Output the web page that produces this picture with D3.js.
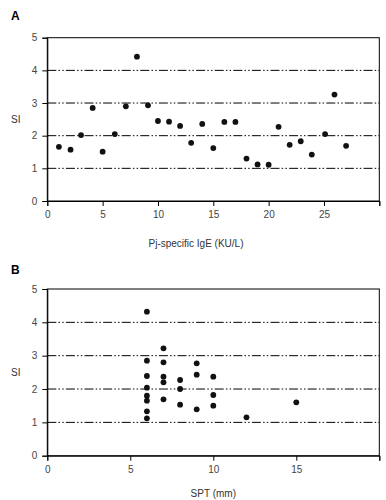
<!DOCTYPE html>
<html>
<head>
<meta charset="utf-8">
<script src="https://cdn.jsdelivr.net/npm/d3@7.9.0/dist/d3.min.js"></script>
<style>
  body { margin: 0; background: #fff; }
  svg { display: block; font-family: "Liberation Sans", Arial, sans-serif; }
</style>
</head>
<body>
<div id="chart"></div>
<script>
// panel A: Pj-specific IgE vs SI
const igeX = [1.05, 2.1, 3.05, 4.1, 5.0, 6.1, 7.1, 8.1, 9.1, 10.0, 11.0, 12.0, 13.0, 14.0,
  15.0, 16.0, 17.0, 18.0, 19.0, 20.0, 20.9, 21.9, 22.9, 23.9, 25.1, 25.95, 27.0];
const igeSI = [1.66, 1.57, 2.02, 2.85, 1.51, 2.05, 2.9, 4.42, 2.93, 2.45, 2.43, 2.3, 1.78, 2.36,
  1.62, 2.42, 2.42, 1.3, 1.12, 1.11, 2.27, 1.72, 1.83, 1.42, 2.05, 3.26, 1.69];

// panel B: SPT vs SI
const sptX = [6, 6, 6, 6, 6, 6, 6, 6, 7, 7, 7, 7, 7, 8, 8, 8, 9, 9, 9, 10, 10, 10, 12, 15];
const sptSI = [4.32, 2.85, 2.39, 2.04, 1.8, 1.65, 1.33, 1.12, 3.22, 2.8, 2.37, 2.2, 1.69,
  2.27, 2.0, 1.53, 2.77, 2.43, 1.39, 2.37, 1.82, 1.5, 1.15, 1.6];

const siTicks = [0, 1, 2, 3, 4, 5];
const gridTicks = [1, 2, 3, 4];
const igeTicks = [0, 5, 10, 15, 20, 25, 30];
const sptTicks = [0, 5, 10, 15, 20];

const width = 386;
const height = 500;

const svg = d3.select('#chart')
  .append('svg')
  .attr('width', width)
  .attr('height', height);

function drawPanel(opt) {
  const x = d3.scaleLinear().domain(opt.xDomain).range([47.3, 379.3]);
  const y = d3.scaleLinear().domain([0, 5]).range([opt.bottom, opt.top]);
  const g = svg.append('g');

  // dash-dot-dot reference lines
  g.append('g')
    .selectAll('line')
    .data(gridTicks)
    .join('line')
    .attr('x1', x.range()[0])
    .attr('x2', x.range()[1])
    .attr('y1', d => y(d))
    .attr('y2', d => y(d))
    .attr('stroke', '#000')
    .attr('stroke-width', 1)
    .attr('stroke-dasharray', '9,2.2,1.5,2.2,1.5,2.2');

  // frame (top / right)
  g.append('rect')
    .attr('x', x.range()[0])
    .attr('y', y(5))
    .attr('width', x.range()[1] - x.range()[0])
    .attr('height', y(0) - y(5))
    .attr('fill', 'none')
    .attr('stroke', '#000')
    .attr('stroke-width', 1);

  const xAxis = g.append('g')
    .attr('transform', `translate(0, ${y(0)})`)
    .call(d3.axisBottom(x).tickValues(opt.xTicks).tickSize(5).tickPadding(5)
      .tickFormat(d => opt.xLabelled.includes(d) ? d : ''));

  const yAxis = g.append('g')
    .attr('transform', `translate(${x.range()[0]}, 0)`)
    .call(d3.axisLeft(y).tickValues(siTicks).tickSize(5).tickPadding(5)
      .tickFormat(d3.format('d')));

  [xAxis, yAxis].forEach(a => {
    a.select('.domain').attr('stroke', '#000');
    a.selectAll('.tick line').attr('stroke', '#000');
    a.selectAll('.tick text')
      .attr('fill', '#444')
      .style('font-size', '10px')
      .style('font-family', '"Liberation Sans", Arial, sans-serif');
  });

  g.append('g')
    .selectAll('circle')
    .data(opt.xs.map((v, i) => [v, opt.ys[i]]))
    .join('circle')
    .attr('cx', d => x(d[0]))
    .attr('cy', d => y(d[1]))
    .attr('r', 2.9)
    .attr('fill', '#111');

  // panel letter
  g.append('text')
    .attr('x', 11)
    .attr('y', opt.letterY)
    .attr('font-size', '12px')
    .attr('font-weight', 'bold')
    .text(opt.letter);

  g.append('text')
    .attr('x', 11)
    .attr('y', (y(0) + y(5)) / 2 + 3.5)
    .attr('font-size', '10px')
    .attr('fill', '#333')
    .text('SI');

  g.append('text')
    .attr('x', opt.labelX)
    .attr('y', opt.labelY)
    .attr('text-anchor', 'middle')
    .attr('font-size', '10px')
    .attr('fill', '#333')
    .text(opt.xLabel);
}

drawPanel({
  letter: 'A', letterY: 20,
  top: 37.7, bottom: 201,
  xDomain: [0, 30], xTicks: igeTicks, xLabelled: [0, 5, 10, 15, 20, 25],
  xs: igeX, ys: igeSI,
  xLabel: 'Pj-specific IgE (KU/L)', labelX: 196, labelY: 247
});

drawPanel({
  letter: 'B', letterY: 274,
  top: 289, bottom: 455.7,
  xDomain: [0, 20], xTicks: sptTicks, xLabelled: [0, 5, 10, 15],
  xs: sptX, ys: sptSI,
  xLabel: 'SPT (mm)', labelX: 213.3, labelY: 497
});
</script>
</body>
</html>
